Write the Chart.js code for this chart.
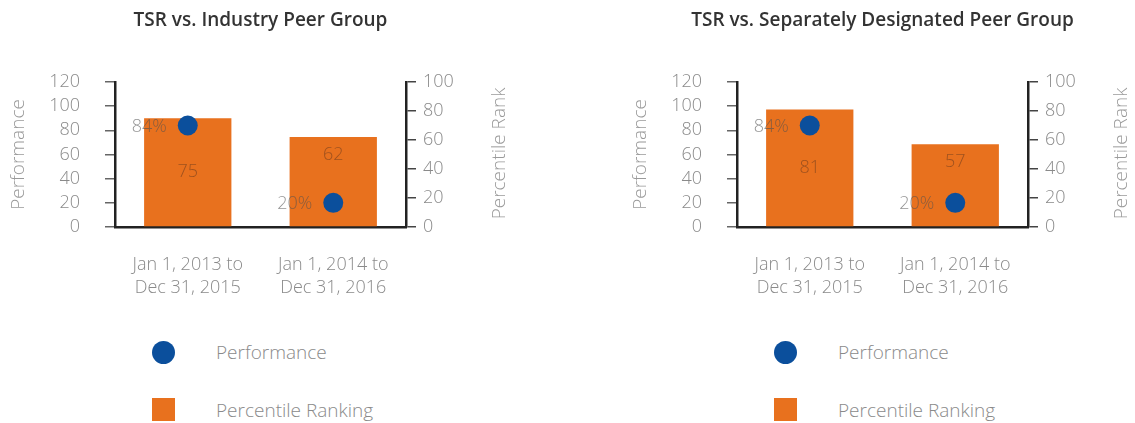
<!DOCTYPE html>
<html>
<head>
<meta charset="utf-8">
<script src="https://cdn.jsdelivr.net/npm/chart.js@4.4.1/dist/chart.umd.min.js"></script>
<style>
  html, body { margin: 0; padding: 0; background: #fff; }
  #wrap { position: relative; width: 1135px; height: 423px; background: #fff; overflow: hidden; font-family: 'Open Sans', sans-serif; }
  canvas { position: absolute; top: 0; }
  .lg-mark { position: absolute; width: 23px; height: 23px; }
  .lg-text { position: absolute; font-size: 19px; font-weight: 300; color: #8a8a8a; line-height: 22px; white-space: nowrap; }
</style>
</head>
<body>
<div id="wrap">
  <canvas id="c1" width="560" height="300" style="left:0px;width:560px;height:300px"></canvas>
  <canvas id="c2" width="513" height="300" style="left:622px;width:513px;height:300px"></canvas>
</div>
<script>
// ---- data ----
const categories = [["Jan 1, 2013 to", "Dec 31, 2015"], ["Jan 1, 2014 to", "Dec 31, 2016"]];
const chartTitles = ["TSR vs. Industry Peer Group", "TSR vs. Separately Designated Peer Group"];
const industryPerformance = [84, 20];
const industryPercentile = [75, 62];
const designatedPerformance = [84, 20];
const designatedPercentile = [81, 57];
const performanceTicks = { min: 0, max: 120, step: 20 };
const percentileTicks = { min: 0, max: 100, step: 20 };
const legendLabels = ["Performance", "Percentile Ranking"];
const axisTitles = ["Performance", "Percentile Rank"];

const ORANGE = '#e8711e';
const BLUE = '#0b4f9c';
const GREY = '#8a8a8a';
const FONT = "'Open Sans', sans-serif";

const annotPlugin = {
  id: 'annot',
  afterDatasetsDraw(chart) {
    const ctx = chart.ctx;
    const barMeta = chart.getDatasetMeta(0);
    const ptMeta = chart.getDatasetMeta(1);
    ctx.save();
    // bar value labels
    ctx.font = "300 18px " + FONT;
    ctx.fillStyle = 'rgba(110,60,30,0.6)';
    ctx.textAlign = 'center';
    ctx.textBaseline = 'middle';
    barMeta.data.forEach((bar, i) => {
      const top = bar.y, bottom = bar.base;
      const center = (top + bottom) / 2;
      const py = ptMeta.data[i].y;
      const y = Math.abs(py - center) < 30 ? top + 18 : center;
      ctx.fillText(String(chart.data.datasets[0].data[i]), bar.x, y);
    });
    // point value labels
    ctx.fillStyle = 'rgba(80,80,80,0.62)';
    ctx.textAlign = 'right';
    ptMeta.data.forEach((pt, i) => {
      ctx.fillText(chart.data.datasets[1].data[i] + '%', pt.x - 21, pt.y + 1);
    });
    ctx.restore();
  },
  afterDraw(chart) {
    const ctx = chart.ctx;
    const ca = chart.chartArea;
    ctx.save();
    // title
    ctx.font = "600 19px " + FONT;
    ctx.fillStyle = '#333';
    ctx.textAlign = 'center';
    ctx.textBaseline = 'middle';
    ctx.fillText(chart.options.plugins.annot.title, (ca.left + ca.right) / 2, 21);
    // right axis title (rotated, reading upwards)
    ctx.font = "300 19px " + FONT;
    ctx.fillStyle = '#9a9a9a';
    ctx.translate(ca.right + 94, (ca.top + ca.bottom) / 2 - 1);
    ctx.rotate(-Math.PI / 2);
    ctx.fillText(axisTitles[1], 0, 0);
    ctx.restore();
  }
};

function makeChart(id, canvasWidth, title, perf, pct) {
  return new Chart(document.getElementById(id), {
    data: {
      labels: categories,
      datasets: [
        {
          type: 'bar',
          label: legendLabels[1],
          data: pct,
          yAxisID: 'y1',
          backgroundColor: ORANGE,
          borderWidth: 0,
          categoryPercentage: 1,
          barPercentage: 0.6,
          order: 2
        },
        {
          type: 'line',
          label: legendLabels[0],
          data: perf,
          yAxisID: 'y',
          showLine: false,
          pointRadius: 10,
          pointHoverRadius: 10,
          pointBackgroundColor: BLUE,
          pointBorderColor: BLUE,
          pointBorderWidth: 0,
          order: 1
        }
      ]
    },
    options: {
      responsive: false,
      animation: false,
      devicePixelRatio: 1,
      layout: { padding: { top: 82, left: 0, right: 0, bottom: 0 } },
      plugins: {
        legend: { display: false },
        tooltip: { enabled: false },
        annot: { title: title }
      },
      scales: {
        x: {
          offset: true,
          grid: { display: false },
          border: { display: true, color: '#222', width: 2.5 },
          ticks: {
            color: GREY,
            padding: 18,
            maxRotation: 0,
            autoSkip: false,
            font: { family: FONT, size: 18, weight: 300, lineHeight: 1.3 }
          },
          afterFit: s => { s.height = 73; }
        },
        y: {
          position: 'left',
          min: performanceTicks.min,
          max: performanceTicks.max,
          grid: { drawOnChartArea: false, drawTicks: true, tickLength: 10, color: '#666', lineWidth: 1.5 },
          border: { display: true, color: '#222', width: 2.5 },
          ticks: {
            stepSize: performanceTicks.step,
            autoSkip: false,
            color: GREY,
            padding: 25,
            font: { family: FONT, size: 18, weight: 300 }
          },
          title: {
            display: true,
            text: axisTitles[0],
            color: '#9a9a9a',
            padding: { top: 7, bottom: 0 },
            font: { family: FONT, size: 19, weight: 300 }
          },
          afterFit: s => { s.width = 115; }
        },
        y1: {
          position: 'right',
          min: percentileTicks.min,
          max: percentileTicks.max,
          grid: { drawOnChartArea: false, drawTicks: true, tickLength: 10, color: '#444', lineWidth: 1.5 },
          border: { display: true, color: '#222', width: 2.5 },
          ticks: {
            stepSize: percentileTicks.step,
            autoSkip: false,
            color: GREY,
            padding: 7,
            font: { family: FONT, size: 18, weight: 300 }
          },
          afterFit: s => { s.width = canvasWidth - 406; }
        }
      }
    },
    plugins: [annotPlugin]
  });
}

makeChart('c1', 560, chartTitles[0], industryPerformance, industryPercentile);
makeChart('c2', 513, chartTitles[1], designatedPerformance, designatedPercentile);

// HTML legends
const wrap = document.getElementById('wrap');
[0, 622].forEach(ox => {
  const items = [
    { color: BLUE, round: true, top: 341, text: legendLabels[0], ty: 341 },
    { color: ORANGE, round: false, top: 398, text: legendLabels[1], ty: 399 }
  ];
  items.forEach(it => {
    const m = document.createElement('div');
    m.className = 'lg-mark';
    m.style.left = (ox + 152) + 'px';
    m.style.top = it.top + 'px';
    m.style.background = it.color;
    if (it.round) m.style.borderRadius = '50%';
    wrap.appendChild(m);
    const t = document.createElement('div');
    t.className = 'lg-text';
    t.style.left = (ox + 216) + 'px';
    t.style.top = it.ty + 'px';
    t.textContent = it.text;
    wrap.appendChild(t);
  });
});
</script>
</body>
</html>
